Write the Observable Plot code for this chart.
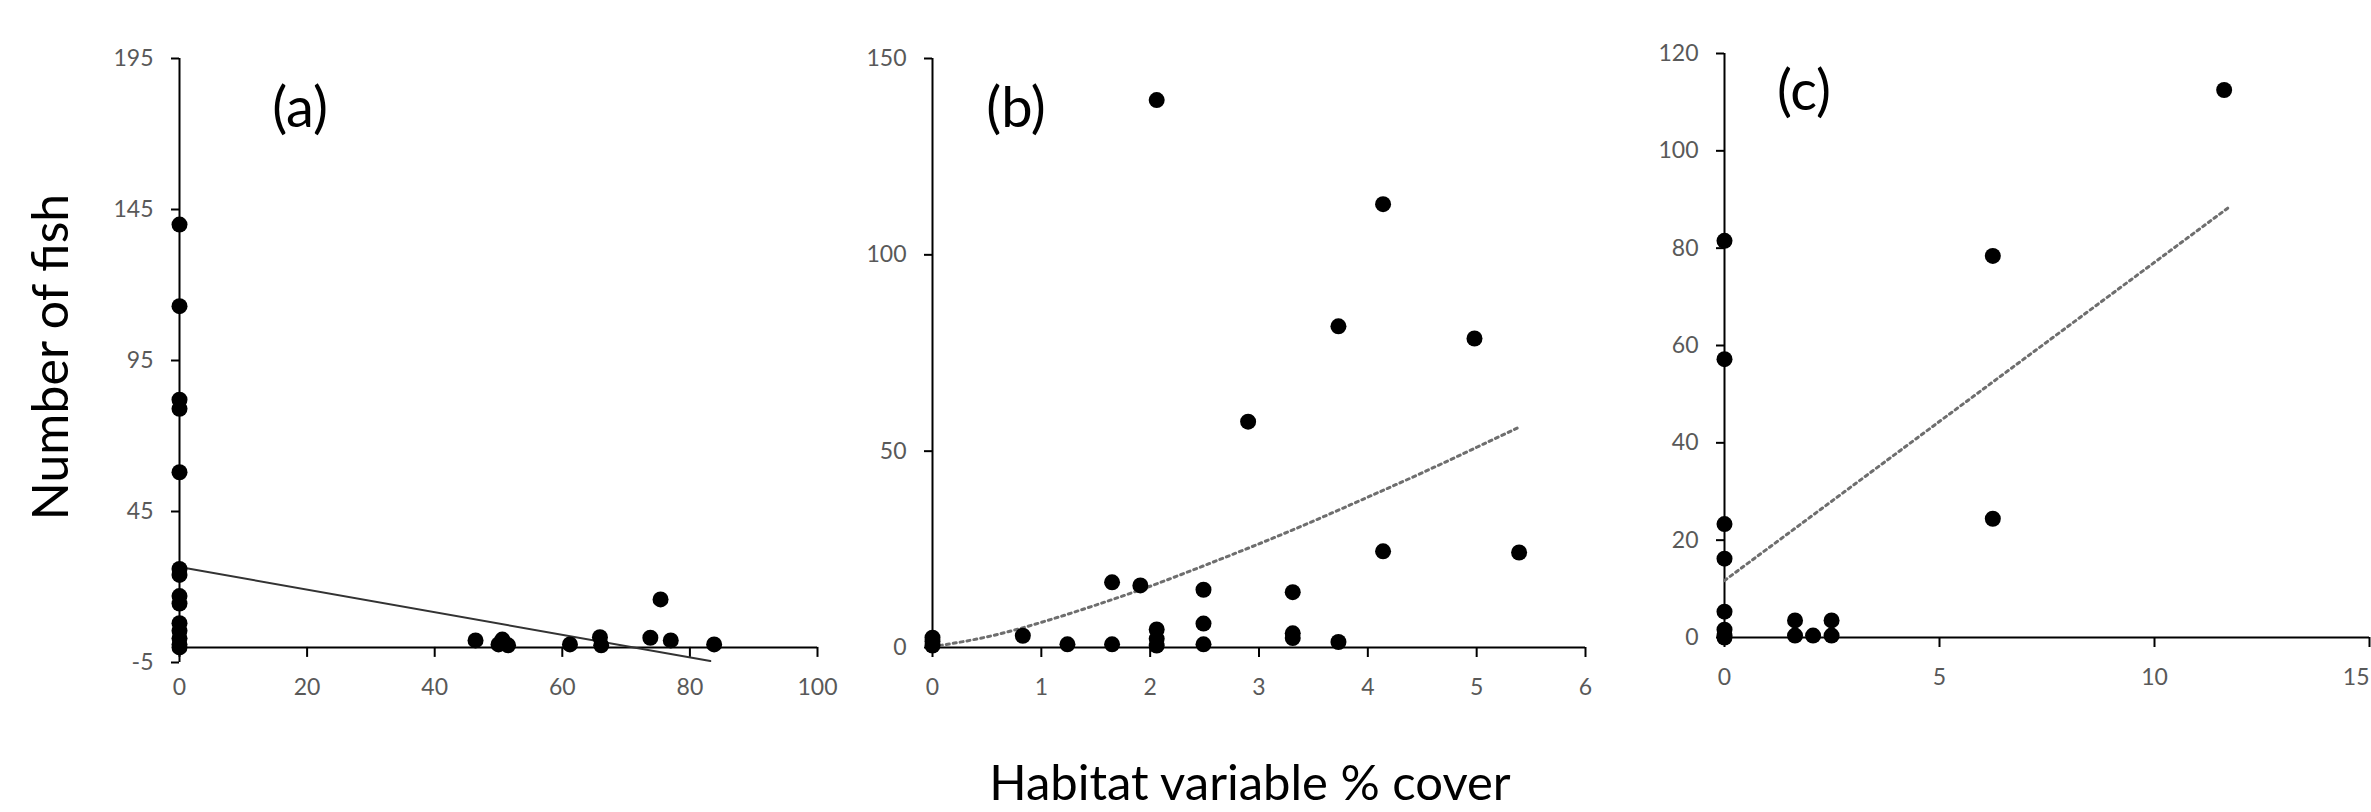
<!DOCTYPE html>
<html>
<head>
<meta charset="utf-8">
<script src="https://cdn.jsdelivr.net/npm/d3@7"></script>
<script src="https://cdn.jsdelivr.net/npm/@observablehq/plot@0.6"></script>
<style>
  html, body { margin: 0; padding: 0; background: #fff; }
  #wrap { position: relative; width: 2371px; height: 812px; overflow: hidden; background: #fff; font-family: Lato, "Open Sans", sans-serif; }
  .panel { position: absolute; top: 0; }
  .lbl { position: absolute; transform: translate(-50%, -50%); white-space: nowrap; color: #000; line-height: 1; }
</style>
</head>
<body>
<div id="wrap"></div>
<script>
// ---------- Panel (a) ----------
const aX = [0, 0, 0, 0, 0, 0, 0, 0, 0, 0, 0, 0, 0, 0,
            46.4, 50.0, 50.6, 51.5, 61.2, 65.9, 66.1, 73.8, 75.4, 77.0, 83.8];
const aY = [140, 113, 82, 79, 58, 26, 24, 17, 14.5, 8, 5.5, 3, 1, 0,
            2.3, 1, 2.6, 0.7, 1, 3.4, 0.7, 3.2, 15.9, 2.3, 1];
const aTrendX = [0, 83.2];
const aTrendY = [26.6, -4.5];
const aTicksX = [0, 20, 40, 60, 80, 100];
const aTicksY = [-5, 45, 95, 145, 195];

// ---------- Panel (b) ----------
const bX = [0, 0, 0, 0.83, 1.24, 1.65, 1.65, 1.91, 2.06, 2.06, 2.06, 2.06, 2.49, 2.49, 2.49,
            2.90, 3.31, 3.31, 3.31, 3.73, 3.73, 4.14, 4.14, 4.98, 5.39];
const bY = [0.5, 1.5, 2.5, 3.0, 0.8, 0.8, 16.6, 15.8, 139.4, 4.6, 2.2, 0.5, 14.7, 6.1, 0.8,
            57.5, 14.1, 3.6, 2.4, 81.8, 1.4, 112.9, 24.5, 78.7, 24.2];
const bTrendX = [0, 0.5, 1, 1.5, 2, 2.5, 3, 3.5, 4, 4.5, 5, 5.39];
const bTrendY = [0.2, 2.7, 6.4, 10.8, 15.6, 20.9, 26.4, 32.2, 38.3, 44.5, 51.0, 56.1];
const bTicksX = [0, 1, 2, 3, 4, 5, 6];
const bTicksY = [0, 50, 100, 150];

// ---------- Panel (c) ----------
const cX = [0, 0, 0, 0, 0, 0, 0, 0, 1.64, 1.64, 2.06, 2.49, 2.49, 6.24, 6.24, 11.62];
const cY = [81.5, 57.2, 23.3, 16.2, 5.3, 1.6, 0.4, 0, 3.5, 0.4, 0.4, 3.5, 0.4, 78.4, 24.4, 112.5];
const cTrendX = [0, 11.73];
const cTrendY = [11.7, 88.4];
const cTicksX = [0, 5, 10, 15];
const cTicksY = [0, 20, 40, 60, 80, 100, 120];

const panelLabels = ["(a)", "(b)", "(c)"];
const yTitle = "Number of fish";
const xTitle = "Habitat variable % cover";

const TICK_COLOR = "#595959";
const FONT = "Lato, 'Open Sans', sans-serif";

function zip(xs, ys) { return xs.map((x, i) => ({x, y: ys[i]})); }

function panel(cfg) {
  const pts = zip(cfg.xs, cfg.ys);
  const trend = zip(cfg.tx, cfg.ty);
  const lastX = cfg.xTicks[cfg.xTicks.length - 1];
  const marks = [
    // y axis line
    Plot.ruleX([0], {stroke: "#000", strokeWidth: 2}),
    // y axis ticks & labels
    Plot.axisY({ticks: cfg.yTicks, anchor: "left", tickSize: 8, tickPadding: 18,
      stroke: "#000", strokeWidth: 2, fill: TICK_COLOR, fontSize: 23, label: null,
      tickFormat: d => String(d)}),
    // x axis line at y = 0
    Plot.ruleY([0], {stroke: "#000", strokeWidth: 2}),
    // x axis ticks (downward from y = 0)
    Plot.ruleX(cfg.xTicks, {x: d => d, y1: 0, y2: 0, insetBottom: -10, stroke: "#000", strokeWidth: 2}),
    // x tick labels
    Plot.text(cfg.xTicks.filter(d => !(cfg.endLast && d === lastX)),
      {x: d => d, y: 0, text: d => String(d), dy: 40, fill: TICK_COLOR, fontSize: 23}),
    cfg.endLast ? Plot.text([lastX], {x: d => d, y: 0, text: d => String(d), dy: 40,
      textAnchor: "end", fill: TICK_COLOR, fontSize: 23}) : null,
    // trend line
    Plot.line(trend, {x: "x", y: "y", curve: cfg.curve || "linear",
      stroke: cfg.dotted ? "#6e6e6e" : "#333", strokeWidth: cfg.dotted ? 3 : 2,
      strokeDasharray: cfg.dotted ? "3,4" : null}),
    // points
    Plot.dot(pts, {x: "x", y: "y", r: 8, fill: "#000", stroke: "none"})
  ];
  return Plot.plot({
    width: cfg.width, height: cfg.height,
    marginLeft: cfg.ml, marginRight: cfg.mr, marginTop: cfg.mt, marginBottom: cfg.mb,
    x: {domain: cfg.xDomain, axis: null},
    y: {domain: cfg.yDomain},
    style: {fontFamily: FONT, background: "transparent", overflow: "visible"},
    marks
  });
}

const wrap = document.getElementById("wrap");

const specs = [
  {left: 100, xs: aX, ys: aY, tx: aTrendX, ty: aTrendY, dotted: false,
   xTicks: aTicksX, yTicks: aTicksY, xDomain: [0, 100], yDomain: [-5, 195],
   width: 750, height: 720, ml: 79, mr: 33, mt: 58, mb: 58},
  {left: 850, xs: bX, ys: bY, tx: bTrendX, ty: bTrendY, dotted: true, curve: "natural",
   xTicks: bTicksX, yTicks: bTicksY, xDomain: [0, 6], yDomain: [0, 150],
   width: 760, height: 720, ml: 82, mr: 25, mt: 58, mb: 73},
  {left: 1620, xs: cX, ys: cY, tx: cTrendX, ty: cTrendY, dotted: true, endLast: true,
   xTicks: cTicksX, yTicks: cTicksY, xDomain: [0, 15], yDomain: [0, 120],
   width: 751, height: 720, ml: 104, mr: 2, mt: 53, mb: 83}
];

specs.forEach(s => {
  const svg = panel(s);
  const holder = document.createElement("div");
  holder.className = "panel";
  holder.style.left = s.left + "px";
  holder.appendChild(svg);
  wrap.appendChild(holder);
});

function addLabel(text, cx, cy, size, rotate) {
  const d = document.createElement("div");
  d.className = "lbl";
  d.textContent = text;
  d.style.left = cx + "px";
  d.style.top = cy + "px";
  d.style.fontSize = size + "px";
  if (rotate) d.style.transform = "translate(-50%, -50%) rotate(-90deg)";
  wrap.appendChild(d);
}

const labelPos = [[300, 106], [1016, 106], [1804, 89]];
panelLabels.forEach((t, i) => addLabel(t, labelPos[i][0], labelPos[i][1], 56, false));
addLabel(yTitle, 49, 357, 50, true);
addLabel(xTitle, 1250, 781, 49, false);
</script>
</body>
</html>
